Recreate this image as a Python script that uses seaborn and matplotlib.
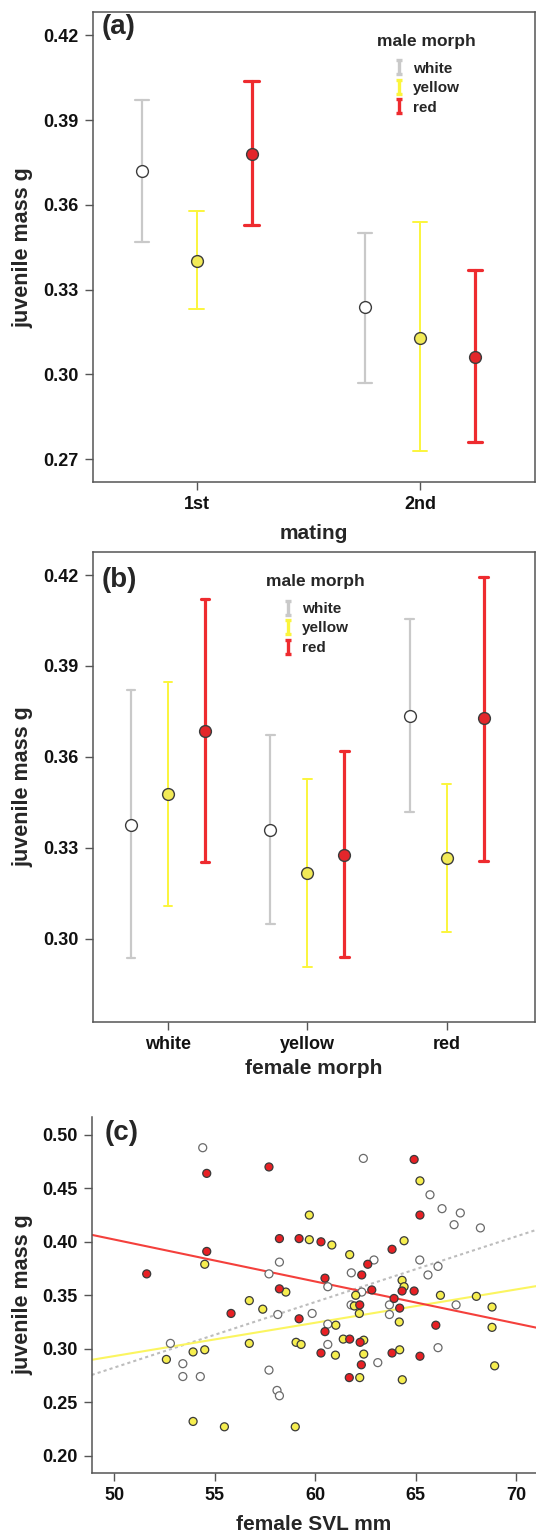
import numpy as np
import pandas as pd
import matplotlib
matplotlib.use("Agg")
import matplotlib.pyplot as plt
from matplotlib.lines import Line2D
from matplotlib.path import Path
from matplotlib.colors import to_hex
import seaborn as sns

# ------------------------------
# data
# ------------------------------
MORPHS = ["white", "yellow", "red"]
MATINGS = ["1st", "2nd"]
FEMALE_MORPHS = ["white", "yellow", "red"]

# (a) rows = male morph (white, yellow, red), cols = mating
A_MEAN = [[0.372, 0.324], [0.340, 0.313], [0.378, 0.306]]
A_LOW = [[0.347, 0.297], [0.323, 0.273], [0.353, 0.276]]
A_HIGH = [[0.397, 0.350], [0.358, 0.354], [0.404, 0.337]]

# (b) rows = male morph, cols = female morph
B_MEAN = [[0.3375, 0.3359, 0.3736], [0.3478, 0.3216, 0.3266], [0.3686, 0.3277, 0.3727]]
B_LOW = [[0.2935, 0.3047, 0.3417], [0.3107, 0.2908, 0.3021], [0.3252, 0.2941, 0.3257]]
B_HIGH = [[0.3819, 0.3672, 0.4054], [0.3847, 0.3528, 0.3512], [0.4122, 0.3619, 0.4192]]

# (c) female SVL (mm) vs juvenile mass (g), by male morph
SVL_WHITE = [54.40, 58.22, 57.70, 58.14, 59.85, 52.79, 53.41, 53.41, 54.28, 57.70,
             58.10, 58.22, 62.40, 65.72, 66.32, 67.23, 66.92, 68.23, 62.93, 65.21,
             66.12, 65.62, 61.80, 60.63, 62.32, 61.79, 63.70, 63.70, 67.02, 60.63,
             60.63, 66.12, 63.12]
MASS_WHITE = [0.488, 0.381, 0.370, 0.332, 0.333, 0.305, 0.286, 0.274, 0.274, 0.280,
              0.261, 0.256, 0.478, 0.444, 0.431, 0.427, 0.416, 0.413, 0.383, 0.383,
              0.377, 0.369, 0.371, 0.358, 0.353, 0.341, 0.341, 0.332, 0.341, 0.323,
              0.304, 0.301, 0.287]
SVL_YELLOW = [59.71, 59.71, 54.50, 58.54, 56.72, 57.39, 56.72, 59.05, 59.30, 52.59,
              53.92, 54.50, 53.92, 55.48, 59.01, 65.22, 60.83, 61.72, 64.43, 64.33,
              64.43, 62.02, 66.24, 68.03, 61.95, 62.20, 68.81, 61.03, 64.19, 68.81,
              61.40, 62.42, 61.01, 62.42, 64.21, 62.22, 64.34, 68.94]
MASS_YELLOW = [0.425, 0.402, 0.379, 0.353, 0.345, 0.337, 0.305, 0.306, 0.304, 0.290,
               0.297, 0.299, 0.232, 0.227, 0.227, 0.457, 0.397, 0.388, 0.401, 0.364,
               0.358, 0.350, 0.350, 0.349, 0.340, 0.333, 0.339, 0.322, 0.325, 0.320,
               0.309, 0.308, 0.294, 0.295, 0.299, 0.273, 0.271, 0.284]
SVL_RED = [54.60, 57.70, 58.22, 59.20, 54.60, 51.61, 58.22, 55.81, 59.20, 64.93,
           65.22, 60.29, 63.83, 62.62, 62.32, 60.49, 62.82, 64.33, 64.93, 63.93,
           62.22, 64.21, 66.01, 60.49, 61.72, 62.24, 60.29, 63.83, 65.22, 62.30,
           61.70]
MASS_RED = [0.464, 0.470, 0.403, 0.403, 0.391, 0.370, 0.356, 0.333, 0.328, 0.477,
            0.425, 0.400, 0.393, 0.379, 0.369, 0.366, 0.355, 0.354, 0.354, 0.347,
            0.341, 0.338, 0.322, 0.316, 0.309, 0.306, 0.296, 0.296, 0.293, 0.285,
            0.273]

# colours
BAR_COLORS = {"white": "#c9c9c9", "yellow": "#fbf53c", "red": "#ee2b2f"}
FACE_COLORS = {"white": "#ffffff", "yellow": "#f2ea57", "red": "#e3262b"}
BAR_WIDTHS = {"white": 1.6, "yellow": 1.4, "red": 2.3}
DOT_FACE = {"white": "#ffffff", "yellow": "#f6ee4f", "red": "#e82024"}
DOT_EDGE = {"white": "#6a6a6a", "yellow": "#3a3a3a", "red": "#3a3a3a"}
LINE_COLORS = {"white": "#bdbdbd", "yellow": "#fbf560", "red": "#f4403c"}
SPINE = "#555555"

FIG_W, FIG_H = 536, 1533


def setup_style():
    sns.set_style("ticks")
    plt.rcParams["font.family"] = ["Liberation Sans", "DejaVu Sans"]
    plt.rcParams["font.weight"] = "bold"
    plt.rcParams["axes.labelweight"] = "bold"
    plt.rcParams["axes.edgecolor"] = SPINE
    plt.rcParams["xtick.color"] = SPINE
    plt.rcParams["ytick.color"] = SPINE
    plt.rcParams["xtick.labelcolor"] = "#111111"
    plt.rcParams["ytick.labelcolor"] = "#111111"


def px_axes(fig, left, top, right, bottom):
    return fig.add_axes([left / FIG_W, 1 - bottom / FIG_H,
                         (right - left) / FIG_W, (bottom - top) / FIG_H])


def long_table(cats, col, lows, means, highs):
    rows = []
    for i, m in enumerate(MORPHS):
        for j, c in enumerate(cats):
            for v in (lows[i][j], means[i][j], highs[i][j]):
                rows.append({col: c, "male morph": m, "mass": v})
    return pd.DataFrame(rows)


def morph_handles():
    verts = [(-0.45, -1), (0.45, -1), (0, -1), (0, 1), (-0.45, 1), (0.45, 1)]
    codes = [Path.MOVETO, Path.LINETO, Path.MOVETO, Path.LINETO, Path.MOVETO, Path.LINETO]
    glyph = Path(verts, codes)
    return [Line2D([], [], linestyle="none", marker=glyph, markersize=9.5,
                   markeredgecolor=BAR_COLORS[m], markeredgewidth=2.4,
                   markerfacecolor="none", label=m) for m in MORPHS]


def add_legend(ax, anchor):
    leg = ax.legend(handles=morph_handles(), title="male morph", frameon=False,
                    loc="upper center", bbox_to_anchor=anchor,
                    prop={"size": 11, "weight": "bold"},
                    title_fontproperties={"size": 12.5, "weight": "bold"},
                    handlelength=0.8, handletextpad=0.5, labelspacing=0.36,
                    borderpad=0)
    leg._legend_box.sep = 9


def style_box(ax, yticks, ylim, xlim):
    ax.set_ylim(*ylim)
    ax.set_xlim(*xlim)
    ax.set_yticks(yticks)
    ax.set_yticklabels([f"{t:.2f}" for t in yticks])
    for s in ax.spines.values():
        s.set_linewidth(1.1)
        s.set_color(SPINE)
    ax.tick_params(axis="both", length=6, width=1.0, labelsize=13, pad=4)
    for lab in ax.get_xticklabels() + ax.get_yticklabels():
        lab.set_fontweight("bold")


def restyle_points(ax):
    back = {to_hex(v): k for k, v in BAR_COLORS.items()}
    for line in ax.lines:
        morph = back.get(to_hex(line.get_color()))
        if morph is None:
            continue
        if line.get_marker() not in (None, "None", "", " "):
            line.set_markerfacecolor(FACE_COLORS[morph])
            line.set_markeredgecolor("#3c3c3c")
            line.set_markeredgewidth(1.0)
            line.set_zorder(4)
        else:
            line.set_linewidth(BAR_WIDTHS[morph])


def plot_mating(ax):
    df = long_table(MATINGS, "mating", A_LOW, A_MEAN, A_HIGH)
    sns.pointplot(data=df, x="mating", y="mass", hue="male morph",
                  order=MATINGS, hue_order=MORPHS, palette=BAR_COLORS,
                  estimator="median", errorbar=("pi", 100), dodge=0.492,
                  linestyles="none", markers="o", markersize=8.5,
                  capsize=0.065, legend=False, ax=ax)
    restyle_points(ax)
    style_box(ax, [0.27, 0.30, 0.33, 0.36, 0.39, 0.42], (0.2618, 0.4282), (-0.466, 1.515))
    ax.set_xlabel("mating", fontsize=15, fontweight="bold")
    ax.xaxis.set_label_coords(0.5, -0.089)
    ax.set_ylabel("juvenile mass g", fontsize=15.5, fontweight="bold")
    ax.yaxis.set_label_coords(-0.135, 0.5)
    ax.text(0.021, 0.968, "(a)", transform=ax.transAxes, fontsize=20,
            fontweight="bold", ha="left", va="center")
    add_legend(ax, (0.754, 0.97))


def plot_female(ax):
    df = long_table(FEMALE_MORPHS, "female morph", B_LOW, B_MEAN, B_HIGH)
    sns.pointplot(data=df, x="female morph", y="mass", hue="male morph",
                  order=FEMALE_MORPHS, hue_order=MORPHS, palette=BAR_COLORS,
                  estimator="median", errorbar=("pi", 100), dodge=0.532,
                  linestyles="none", markers="o", markersize=8.5,
                  capsize=0.06, legend=False, ax=ax)
    restyle_points(ax)
    style_box(ax, [0.30, 0.33, 0.36, 0.39, 0.42], (0.2724, 0.4277), (-0.543, 2.635))
    ax.set_xlabel("female morph", fontsize=15, fontweight="bold")
    ax.xaxis.set_label_coords(0.5, -0.079)
    ax.set_ylabel("juvenile mass g", fontsize=15.5, fontweight="bold")
    ax.yaxis.set_label_coords(-0.135, 0.5)
    ax.text(0.021, 0.94, "(b)", transform=ax.transAxes, fontsize=20,
            fontweight="bold", ha="left", va="center")
    add_legend(ax, (0.503, 0.968))


def plot_svl(ax):
    df = pd.DataFrame({
        "svl": SVL_WHITE + SVL_YELLOW + SVL_RED,
        "mass": MASS_WHITE + MASS_YELLOW + MASS_RED,
        "morph": ["white"] * len(SVL_WHITE) + ["yellow"] * len(SVL_YELLOW)
                 + ["red"] * len(SVL_RED),
    })
    ax.set_xlim(48.87, 71.0)
    ax.set_ylim(0.1835, 0.517)

    for m, ls in zip(MORPHS, [(0, (1.5, 1.5)), "-", "-"]):
        sub = df[df["morph"] == m]
        sns.regplot(data=sub, x="svl", y="mass", scatter=False, ci=None,
                    truncate=False, ax=ax,
                    line_kws={"color": LINE_COLORS[m], "linewidth": 1.5,
                              "linestyle": ls, "zorder": 1})

    sns.scatterplot(data=df, x="svl", y="mass", hue="morph", palette=DOT_FACE,
                    hue_order=MORPHS, s=33, linewidth=0.9,
                    edgecolor=df["morph"].map(DOT_EDGE).tolist(),
                    legend=False, zorder=3, ax=ax)

    ax.set_xticks([50, 55, 60, 65, 70])
    ax.set_yticks([0.20, 0.25, 0.30, 0.35, 0.40, 0.45, 0.50])
    ax.set_yticklabels([f"{t:.2f}" for t in ax.get_yticks()])
    sns.despine(ax=ax)
    for s in ("left", "bottom"):
        ax.spines[s].set_linewidth(1.1)
        ax.spines[s].set_color(SPINE)
    ax.tick_params(axis="both", length=6, width=1.0, labelsize=13, pad=4)
    for lab in ax.get_xticklabels() + ax.get_yticklabels():
        lab.set_fontweight("bold")
    ax.set_xlabel("female SVL mm", fontsize=15, fontweight="bold")
    ax.xaxis.set_label_coords(0.5, -0.116)
    ax.set_ylabel("juvenile mass g", fontsize=15.5, fontweight="bold")
    ax.yaxis.set_label_coords(-0.131, 0.5)
    ax.text(0.03, 0.954, "(c)", transform=ax.transAxes, fontsize=20,
            fontweight="bold", ha="left", va="center")


def main():
    setup_style()
    fig = plt.figure(figsize=(FIG_W / 100, FIG_H / 100), dpi=100)
    ax_a = px_axes(fig, 92.7, 12.3, 535, 482.3)
    ax_b = px_axes(fig, 92.7, 551.7, 535, 1022.3)
    ax_c = px_axes(fig, 91.7, 1116.7, 536, 1473.3)

    plot_mating(ax_a)
    plot_female(ax_b)
    plot_svl(ax_c)

    fig.savefig("out.png", dpi=100, facecolor="white")


if __name__ == "__main__":
    main()
